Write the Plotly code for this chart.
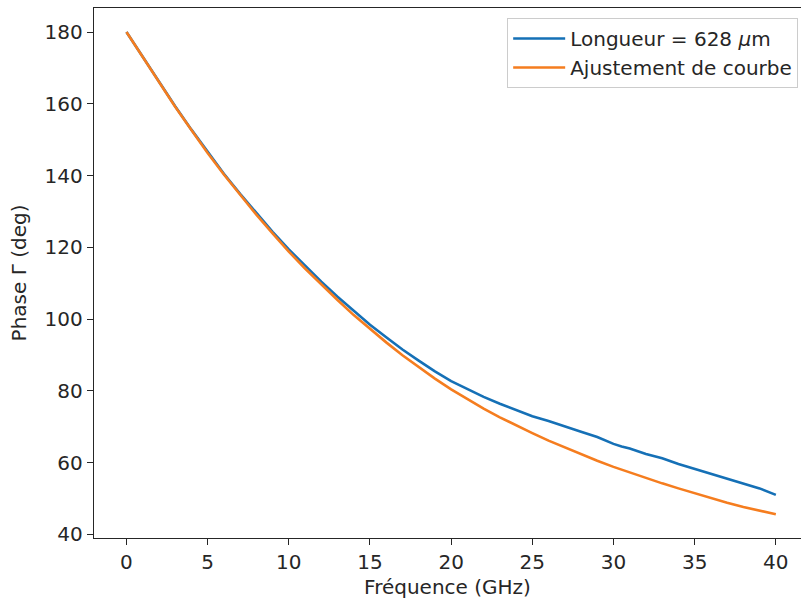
import plotly.graph_objects as go

# Measured reflection phase vs. frequency, and the fitted model
freq_meas = [0, 1, 2, 3, 4, 5, 6, 7, 8, 9, 10, 11, 12, 13, 14, 15, 16, 17, 18, 19,
             20, 21, 22, 23, 24, 25, 26, 27, 28, 29, 30, 30.5, 31, 32, 33, 34, 35,
             36, 37, 38, 39, 40]
phase_meas = [180.0, 173.0, 166.0, 159.3, 152.8, 146.5, 140.5, 134.9, 129.5, 124.3,
              119.4, 114.8, 110.4, 106.2, 102.2, 98.4, 94.9, 91.5, 88.4, 85.4,
              82.7, 80.4, 78.3, 76.4, 74.6, 72.9, 71.6, 70.0, 68.6, 67.1,
              65.2, 64.5, 63.9, 62.4, 61.2, 59.6, 58.2, 57.0, 55.6, 54.1, 52.8, 51.0]

freq_fit = list(range(0, 41))
phase_fit = [180.0, 173.0, 166.0, 159.2, 152.7, 146.3, 140.3, 134.6, 129.1, 123.9,
             118.8, 114.1, 109.6, 105.3, 101.1, 97.2, 93.5, 89.9, 86.6, 83.4,
             80.4, 77.6, 75.0, 72.6, 70.3, 68.2, 66.1, 64.2, 62.3, 60.5,
             58.8, 57.2, 55.7, 54.2, 52.8, 51.4, 50.1, 48.8, 47.6, 46.5, 45.6]

x_ticks = [0, 5, 10, 15, 20, 25, 30, 35, 40]
y_ticks = [40, 60, 80, 100, 120, 140, 160, 180]

TEXT = "#262626"
FONT = "DejaVu Sans"
FS = 20

fig = go.Figure()
fig.add_trace(go.Scatter(
    x=freq_meas, y=phase_meas, mode="lines",
    name="Longueur = 628 <i>μ</i>m",
    line=dict(color="#1570b6", width=2.6),
))
fig.add_trace(go.Scatter(
    x=freq_fit, y=phase_fit, mode="lines",
    name="Ajustement de courbe",
    line=dict(color="#f57d1f", width=2.6),
))

axis_common = dict(
    showgrid=False, zeroline=False,
    showline=True, linecolor=TEXT, linewidth=1.4,
    ticks="outside", ticklen=6, tickwidth=1.4, tickcolor=TEXT,
    tickfont=dict(family=FONT, size=FS, color=TEXT),
)

fig.update_layout(
    width=801, height=604,
    margin=dict(l=94, r=0, t=8, b=66),
    paper_bgcolor="white", plot_bgcolor="white",
    font=dict(family=FONT, size=FS, color=TEXT),
    showlegend=True,
    legend=dict(
        x=0.996, y=0.981, xanchor="right", yanchor="top",
        bgcolor="rgba(255,255,255,0.8)", bordercolor="#cccccc", borderwidth=1,
        font=dict(family=FONT, size=FS, color=TEXT),
        tracegroupgap=0, itemwidth=52,
    ),
    xaxis=dict(
        **axis_common,
        range=[-2.0, 41.55],
        tickvals=x_ticks,
        mirror=True,
        title=dict(text="Fréquence (GHz)", font=dict(family=FONT, size=FS, color=TEXT),
                   standoff=6),
    ),
    yaxis=dict(
        **axis_common,
        range=[38.97, 186.7],
        tickvals=y_ticks,
        title=dict(text="Phase Γ (deg)", font=dict(family=FONT, size=FS, color=TEXT),
                   standoff=12),
    ),
)

fig.write_html("out.html")
